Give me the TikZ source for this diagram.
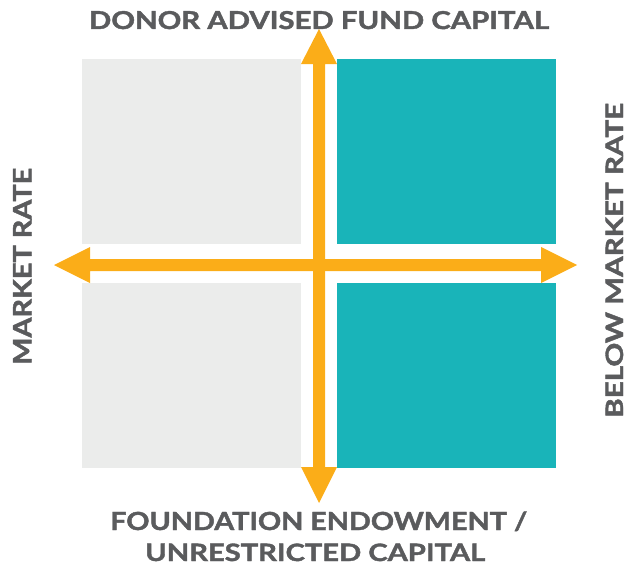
\documentclass[tikz,border=0pt]{standalone}
\usepackage{fontspec}
\setmainfont{Lato}[BoldFeatures={FakeBold=1.6}]
\definecolor{lgray}{HTML}{EBECEB}
\definecolor{teal}{HTML}{19B4B9}
\definecolor{orng}{HTML}{FBAD18}
\definecolor{txt}{HTML}{5A5B5D}
\newcommand{\fitlbl}[3]{\resizebox{#1}{#2}{\bfseries #3}}
\tikzset{
  lbl/.style={text=txt, font=\fontsize{25}{30}\selectfont\bfseries, inner sep=0pt, align=center},
}
\begin{document}
\begin{tikzpicture}[x=1pt,y=-1pt]
\useasboundingbox (0,0) rectangle (625,562);
% quadrants
\fill[lgray] (82,59) rectangle (301,244);
\fill[teal] (337,59) rectangle (556,244);
\fill[lgray] (82,283) rectangle (301,468);
\fill[teal] (337,283) rectangle (556,468);
% horizontal double arrow
\fill[orng] (54,265) -- (90,247) -- (90,259) -- (541,259) -- (541,247) -- (577,265)
  -- (541,283) -- (541,271) -- (90,271) -- (90,283) -- cycle;
% vertical double arrow
\fill[orng] (319,29) -- (337,64) -- (325,64) -- (325,467) -- (337,467) -- (319,503)
  -- (301,467) -- (313,467) -- (313,64) -- (301,64) -- cycle;
% labels
\node[lbl, anchor=base] (top) at (319,29) {\fitlbl{460pt}{18pt}{DONOR ADVISED FUND CAPITAL}};
\node[lbl, anchor=base west] (bot) at (110,530) {\fitlbl{417pt}{18.5pt}{FOUNDATION ENDOWMENT /}};
\node[lbl, anchor=base west] (bot2) at (145,561) {\fitlbl{340pt}{17.5pt}{UNRESTRICTED CAPITAL}};
\node[lbl, rotate=90, anchor=base west] (left) at (31.5,365) {\fitlbl{197pt}{18.5pt}{MARKET RATE}};
\node[lbl, rotate=90, anchor=base west] (right) at (623,418) {\fitlbl{315pt}{17.5pt}{BELOW MARKET RATE}};
\end{tikzpicture}
\end{document}
